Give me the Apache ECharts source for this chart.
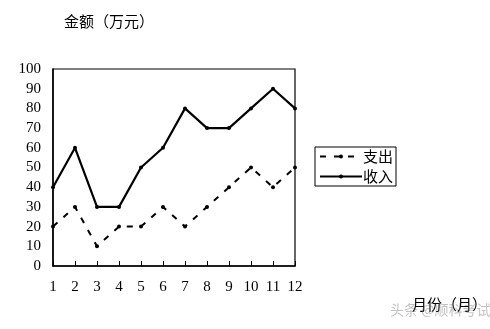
<!DOCTYPE html>
<html><head><meta charset="utf-8">
<script src="https://cdn.jsdelivr.net/npm/echarts@6/dist/echarts.min.js"></script>
<style>html,body{margin:0;padding:0;background:#fff}#c{width:490px;height:329px}</style>
</head><body><div id="c"></div>
<script>
const months = ['1','2','3','4','5','6','7','8','9','10','11','12'];
const expense = [20,30,10,20,20,30,20,30,40,50,40,50];
const income = [40,60,30,30,50,60,80,70,70,80,90,80];
const yMin = 0, yMax = 100, yStep = 10;

const numFont = 'Liberation Serif';
const cjkFont = 'Noto Sans CJK SC';
const chart = echarts.init(document.getElementById('c'));
chart.setOption({
  animation: false,
  backgroundColor: '#fff',
  grid: {left: 53, right: 195, top: 69, bottom: 63, show: true,
    borderColor: '#000', borderWidth: 1.2, backgroundColor: 'transparent'},
  title: {text: '金额（万元）', left: 59, top: 9,
    textStyle: {fontFamily: cjkFont, fontSize: 15, fontWeight: 'normal', color: '#000'}},
  graphic: [
    {type: 'text', left: 412, top: 297, style: {text: '月份（月）', font: '15px "Noto Sans CJK SC"', fill: '#000'}},
    {type: 'text', left: 390, top: 303, style: {text: '头条 @顺科考试', font: '14px "Noto Sans CJK SC"', fill: 'rgba(120,120,120,0.45)'}}
  ],
  legend: {
    orient: 'vertical', left: 315, top: 147,
    borderColor: '#000', borderWidth: 1, borderRadius: 0, padding: [2, 3, 2, 4],
    itemWidth: 42, itemHeight: 5, itemGap: 5,
    textStyle: {fontFamily: cjkFont, fontSize: 15, color: '#000', padding: [0,0,0,-4]},
    data: ['支出', '收入']
  },
  xAxis: {
    type: 'category', data: months, boundaryGap: false,
    axisLine: {lineStyle: {color: '#000', width: 1.5}},
    axisTick: {inside: true, length: 5, lineStyle: {color: '#000'}},
    axisLabel: {color: '#000', fontFamily: numFont, fontSize: 15, margin: 14},
    splitLine: {show: false}
  },
  yAxis: {
    type: 'value', min: yMin, max: yMax, interval: yStep,
    axisLine: {show: true, lineStyle: {color: '#000', width: 1.5}},
    axisTick: {show: false},
    axisLabel: {color: '#000', fontFamily: numFont, fontSize: 15, margin: 12},
    splitLine: {show: false}
  },
  series: [
    {name: '支出', type: 'line', data: expense, symbol: 'circle', symbolSize: 4,
     itemStyle: {color: '#000'},
     lineStyle: {color: '#000', width: 2, type: [6, 8]}},
    {name: '收入', type: 'line', data: income, symbol: 'circle', symbolSize: 4,
     itemStyle: {color: '#000'},
     lineStyle: {color: '#000', width: 2.2}}
  ]
});
</script></body></html>
